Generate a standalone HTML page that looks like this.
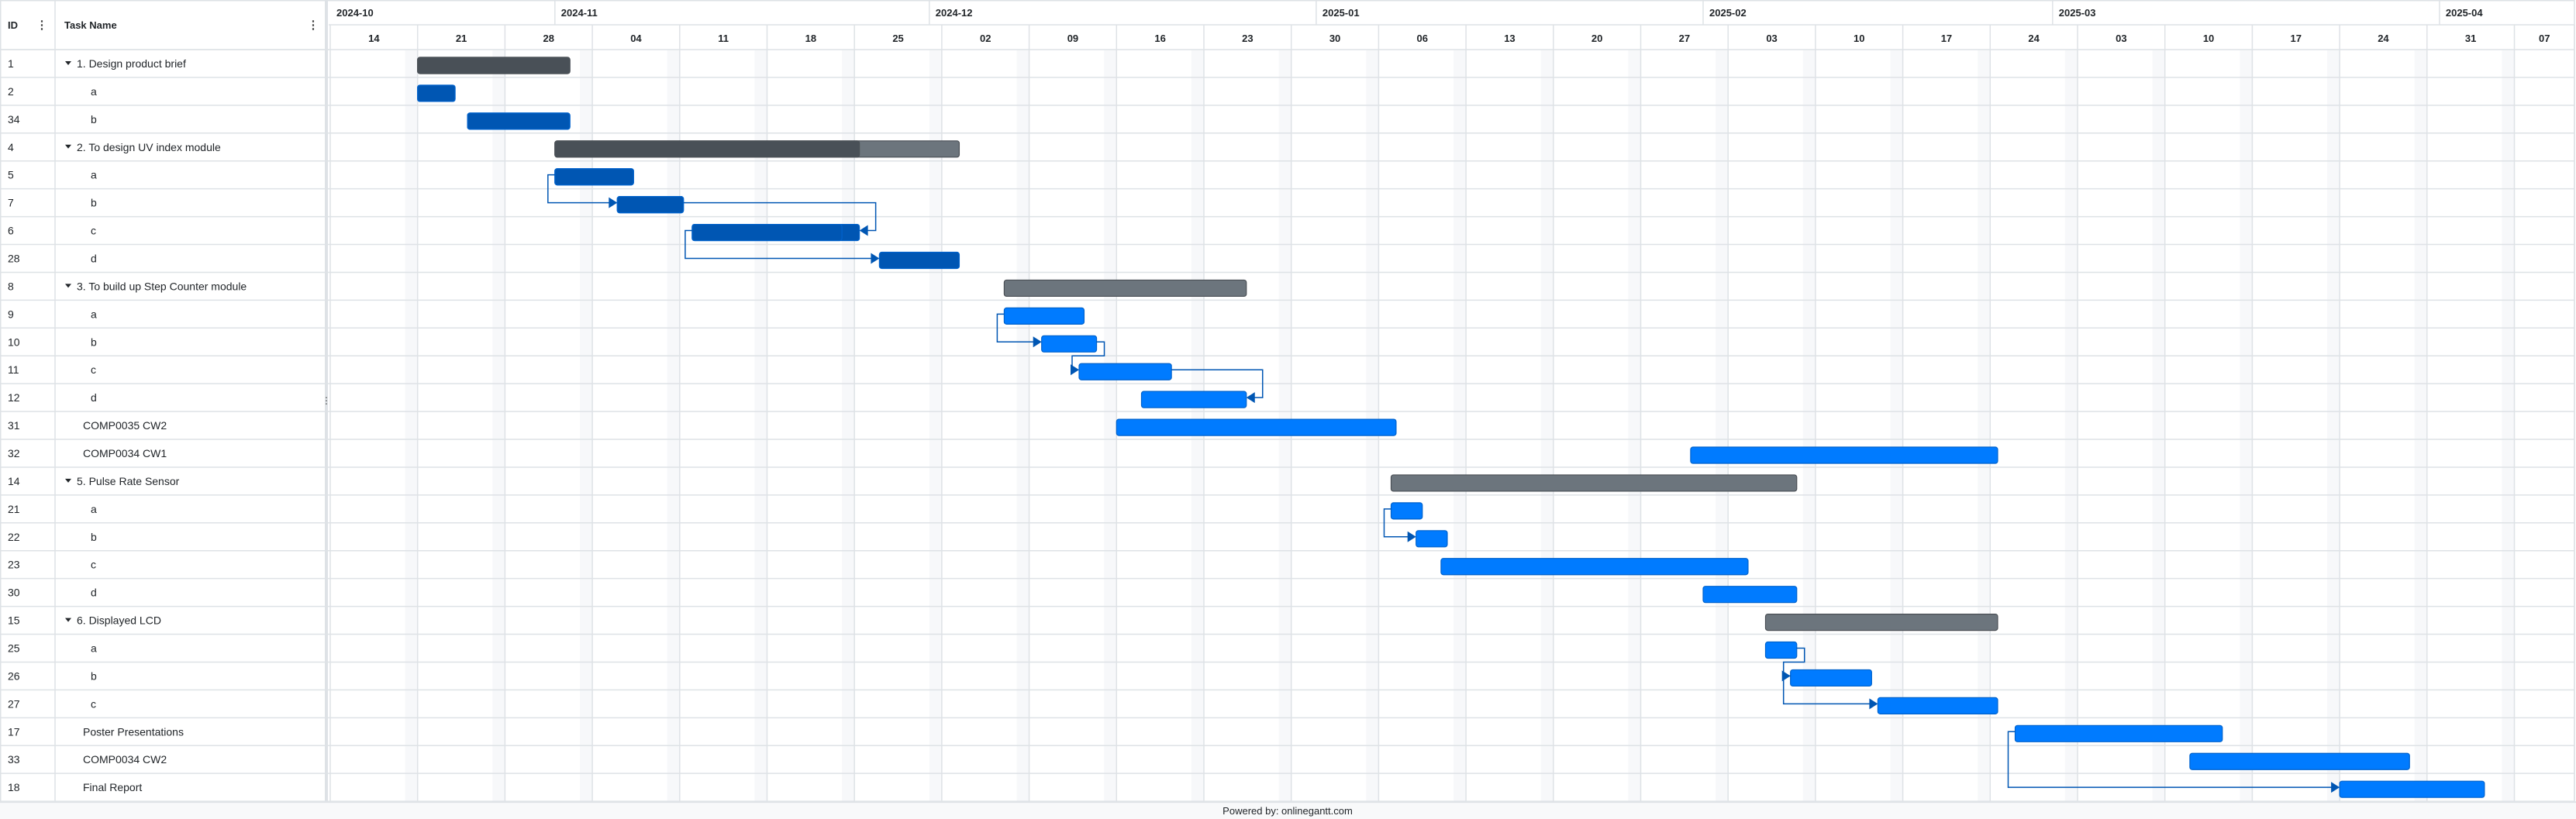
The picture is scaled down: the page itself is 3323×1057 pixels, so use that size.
<!DOCTYPE html>
<html><head><meta charset="utf-8"><style>
html,body{margin:0;padding:0;background:#fff;width:3323px;height:1057px;overflow:hidden}
svg{display:block;font-family:"Liberation Sans",Arial,sans-serif}
</style></head><body>
<svg id="g" width="3323" height="1057" xmlns="http://www.w3.org/2000/svg"></svg>
<script>
const taskIds=["1","2","34","4","5","7","6","28","8","9","10","11","12","31","32","14","21","22","23","30","15","25","26","27","17","33","18"];
const taskNames=["1. Design product brief","a","b","2. To design UV index module","a","b","c","d","3. To build up Step Counter module","a","b","c","d","COMP0035 CW2","COMP0034 CW1","5. Pulse Rate Sensor","a","b","c","d","6. Displayed LCD","a","b","c","Poster Presentations","COMP0034 CW2","Final Report"];
const taskKinds=["sum","sub","sub","sum","sub","sub","sub","sub","sum","sub","sub","sub","sub","task","task","sum","sub","sub","sub","sub","sum","sub","sub","sub","task","task","task"];
// day offsets from 2024-10-14
const startDays=[7,7,11,18,18,23,29,44,54,54,57,60,65,63,109,85,85,87,89,110,115,115,117,124,135,149,161];
const endDays=[19.2,10,19.2,50.4,24.3,28.3,42.4,50.4,73.4,60.4,61.4,67.4,73.4,85.4,133.6,117.5,87.5,89.5,113.6,117.5,133.6,117.5,123.5,133.6,151.6,166.6,172.6];
const progressDays=[19.2,10,19.2,42.4,24.3,28.3,41,0,0,0,0,0,0,0,0,0,0,0,0,0,0,0,0,0,0,0,0];
const depFrom=[4,5,6,9,10,11,16,21,22,24];
const depTo=[5,6,7,10,11,12,17,22,23,26];
const depType=["SS","FF","SS","SS","FS","FF","SS","FS","SS","SS"];
const weekLabels=["14","21","28","04","11","18","25","02","09","16","23","30","06","13","20","27","03","10","17","24","03","10","17","24","31","07"];
const monthLabels=["2024-10","2024-11","2024-12","2025-01","2025-02","2025-03","2025-04"];
const monthStartDays=[0,18,48,79,110,138,169];

const X0=426,DAY=16.1,TOP=64,RH=35.93,GX=424,GEND=3321;
const xs=d=>X0+d*DAY;
const rowY=i=>TOP+i*RH;
const svg=document.getElementById('g');
const NS="http://www.w3.org/2000/svg";
function mk(tag,attrs,parent,text){const e=document.createElementNS(NS,tag);for(const k in attrs)e.setAttribute(k,attrs[k]);if(text!==undefined)e.textContent=text;(parent||svg).appendChild(e);return e;}
const nRows=taskIds.length, bottom=rowY(nRows);

for(let w=0;w<weekLabels.length;w++){
  const xStart=xs(w*7);
  if(w>0){const sh=mk('rect',{x:xStart-DAY,y:TOP,width:DAY,height:bottom-TOP,fill:'#f7f8fa'});
  }
}
for(let w=0;w<=weekLabels.length;w++){
  const x=Math.min(xs(w*7),GEND);
  const l=mk('line',{x1:x,y1:32,x2:x,y2:bottom,stroke:'#dee2e6','stroke-width':1.5});
  
}
for(let i=0;i<=nRows;i++){
  mk('line',{x1:0,y1:rowY(i),x2:GEND,y2:rowY(i),stroke:'#dee2e6','stroke-width':1.5});
}
mk('line',{x1:0,y1:0.75,x2:GEND,y2:0.75,stroke:'#dee2e6','stroke-width':1.5});
mk('line',{x1:GX,y1:32,x2:GEND,y2:32,stroke:'#dee2e6','stroke-width':1.5});
mk('line',{x1:GEND,y1:0,x2:GEND,y2:bottom,stroke:'#dee2e6','stroke-width':1.5});
mk('line',{x1:0.75,y1:0,x2:0.75,y2:bottom,stroke:'#dee2e6','stroke-width':1.5});
for(let m=0;m<monthLabels.length;m++){
  const x=xs(monthStartDays[m]);
  if(m>0)mk('line',{x1:x,y1:0,x2:x,y2:32,stroke:'#dee2e6','stroke-width':1.5});
  const t=mk('text',{x:(m===0?434:x+8),y:21,'font-size':13,'font-weight':'bold',fill:'#212529'},null,monthLabels[m]);
  
}
for(let w=0;w<weekLabels.length;w++){
  const a=xs(w*7),b=Math.min(xs((w+1)*7),GEND);
  const t=mk('text',{x:(a+b)/2,y:54,'font-size':13,'font-weight':'bold',fill:'#212529','text-anchor':'middle'},null,weekLabels[w]);
  
}
mk('line',{x1:71,y1:0,x2:71,y2:bottom,stroke:'#dee2e6','stroke-width':1.5});
mk('line',{x1:0,y1:TOP,x2:GX,y2:TOP,stroke:'#dee2e6','stroke-width':1.5});
mk('rect',{x:419,y:0,width:4,height:bottom,fill:'#dee2e6'});
let h=mk('text',{x:10,y:37,'font-size':13,'font-weight':'bold',fill:'#212529'},null,'ID');

h=mk('text',{x:83,y:37,'font-size':13,'font-weight':'bold',fill:'#212529'},null,'Task Name');

h=mk('text',{x:54,y:37,'font-size':15,'font-weight':'bold',fill:'#444','text-anchor':'middle'},null,'⋮');

h=mk('text',{x:404,y:37,'font-size':15,'font-weight':'bold',fill:'#444','text-anchor':'middle'},null,'⋮');

h=mk('text',{x:421,y:521,'font-size':12,fill:'#444','text-anchor':'middle'},null,'⋮');


for(let i=0;i<nRows;i++){
  const cy=rowY(i)+RH/2+5;
  const t=mk('text',{x:10,y:cy,'font-size':14,fill:'#212529'},null,taskIds[i]);
  
  let tx=107;
  if(taskKinds[i]==='sum'){
    const c=mk('path',{d:`M${84},${cy-8} L${92},${cy-8} L${88},${cy-3} Z`,fill:'#212529'});
    
    tx=99;
  } else if(taskKinds[i]==='sub'){tx=117;}
  const n=mk('text',{x:tx,y:cy,'font-size':14,fill:'#212529'},null,taskNames[i]);
  
}

for(let i=0;i<nRows;i++){
  const y=rowY(i)+10,hh=21;
  const x1=xs(startDays[i]),x2=xs(endDays[i]);
  const isSum=taskKinds[i]==='sum';
  const dark=i<8;
  const base=isSum?'#6c757d':(dark?'#0056b3':'#007bff');
  const prog=isSum?'#495057':'#0056b3';
  const bar=mk('rect',{x:x1,y:y,width:x2-x1,height:hh,rx:3,fill:base,stroke:isSum?'#4a4f55':'#0062cc','stroke-width':1.2});
  
  if(progressDays[i]>startDays[i]){
    const p=mk('rect',{x:x1,y:y,width:xs(progressDays[i])-x1,height:hh,rx:3,fill:prog,stroke:isSum?'#4a4f55':'#0062cc','stroke-width':1.2});
    
  }
}
const C='#0056b3';
function arrowR(x,y){return `M${x},${y} L${x-11},${y-7} L${x-11},${y+7} Z`;}
function arrowL(x,y){return `M${x},${y} L${x+11},${y-7} L${x+11},${y+7} Z`;}
for(let k=0;k<depFrom.length;k++){
  const a=depFrom[k],b=depTo[k];
  const ya=rowY(a)+RH/2,yb=rowY(b)+RH/2;
  let d,ar;
  if(depType[k]==='SS'){
    const sa=xs(startDays[a]),sb=xs(startDays[b]);
    const xl=Math.min(sa,sb)-9;
    d=`M${sa},${ya} H${xl} V${yb} H${sb-10}`;ar=arrowR(sb,yb);
  } else if(depType[k]==='FF'){
    const ea=xs(endDays[a]),eb=xs(endDays[b]);
    const xr=Math.max(ea,eb)+21;
    d=`M${ea},${ya} H${xr} V${yb} H${eb+10}`;ar=arrowL(eb,yb);
  } else {
    const ea=xs(endDays[a]),sb=xs(startDays[b]);
    const ym=rowY(b);
    d=`M${ea},${ya} H${ea+10} V${ym} H${sb-9} V${yb} H${sb-10}`;ar=arrowR(sb,yb);
  }
  const p=mk('path',{d:d,fill:'none',stroke:C,'stroke-width':1.5});
  
  const h2=mk('path',{d:ar,fill:C});
  
}
const f=mk('rect',{x:0,y:bottom,width:3323,height:1057-bottom,fill:'#f8f9fa'});

mk('line',{x1:0,y1:bottom+1,x2:3323,y2:bottom+1,stroke:'#dee2e6','stroke-width':2});
const ft=mk('text',{x:1661,y:1051,'font-size':13,fill:'#212529','text-anchor':'middle'},null,'Powered by: onlinegantt.com');

</script>
</body></html>
